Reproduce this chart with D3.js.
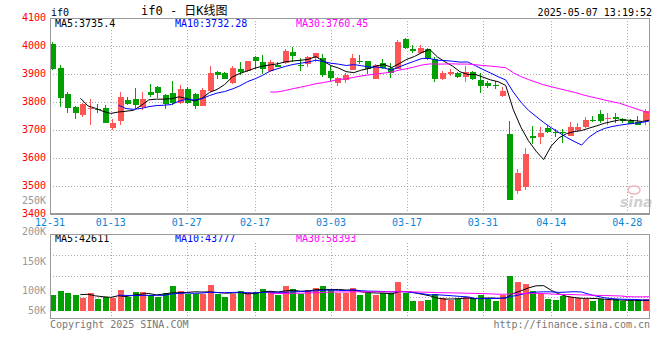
<!DOCTYPE html>
<html><head><meta charset="utf-8">
<script src="https://cdn.jsdelivr.net/npm/d3@7"></script>
<style>
body{margin:0;background:#fff}
svg{display:block}
text{font-family:"DejaVu Sans Mono",monospace;font-size:10px}
</style>
</head><body>
<svg id="c" width="660" height="360"></svg>
<script>
const dates=["12-31","01-02","01-03","01-06","01-07","01-08","01-09","01-10","01-13","01-14","01-15","01-16","01-17","01-20","01-21","01-22","01-23","01-24","01-27",
"02-05","02-06","02-07","02-10","02-11","02-12","02-13","02-14","02-17","02-18","02-19","02-20","02-21","02-24","02-25","02-26","02-27","02-28",
"03-03","03-04","03-05","03-06","03-07","03-10","03-11","03-12","03-13","03-14","03-17","03-18","03-19","03-20","03-21","03-24","03-25","03-26","03-27","03-28","03-31",
"04-01","04-02","04-03","04-07","04-08","04-09","04-10","04-11","04-14","04-15","04-16","04-17","04-18","04-21","04-22","04-23","04-24","04-25","04-28","04-29","04-30","05-06"];
const open =[4007,3921,3829,3781,3754,3778,3776,3779,3707,3733,3807,3811,3781,3835,3852,3824,3832,3798,3845,3829,3787,3840,3907,3905,3867,3917,3910,3961,3942,3912,3933,3938,3979,3933,3936,3957,3957,3910,3869,3879,3914,3947,3946,3883,3939,3923,3918,4025,3989,3976,3989,3953,3882,3901,3902,3888,3908,3879,3869,3862,3821,3686,3483,3498,3679,3676,3708,3694,3692,3680,3700,3710,3735,3757,3738,3748,3739,3731,3730,3732];
const high =[4014,3933,3836,3786,3797,3811,3793,3789,3739,3836,3818,3850,3837,3864,3857,3830,3875,3861,3855,3833,3849,3929,3911,3907,3929,3943,3948,3964,3968,3950,3943,3990,3997,3957,3964,3975,3971,3929,3890,3905,3971,3968,3946,3936,3954,3938,4021,4029,4004,4004,3993,3960,3911,3917,3906,3929,3912,3905,3875,3874,3855,3732,3561,3637,3714,3712,3718,3702,3702,3729,3726,3745,3750,3771,3762,3760,3743,3738,3750,3774];
const low  =[3915,3783,3760,3740,3747,3718,3762,3726,3700,3718,3788,3780,3771,3819,3814,3774,3788,3793,3793,3776,3787,3835,3883,3883,3865,3898,3907,3917,3900,3907,3924,3936,3944,3910,3924,3943,3888,3871,3857,3867,3914,3935,3899,3883,3917,3887,3918,3989,3976,3971,3951,3873,3879,3893,3886,3871,3879,3833,3851,3848,3819,3450,3471,3486,3649,3650,3690,3676,3652,3680,3694,3707,3727,3726,3719,3726,3725,3720,3718,3719];
const close=[3918,3815,3780,3762,3793,3780,3772,3726,3725,3818,3794,3789,3811,3826,3831,3793,3798,3845,3795,3787,3842,3902,3898,3883,3921,3907,3946,3948,3919,3943,3926,3982,3964,3930,3960,3975,3898,3887,3886,3896,3957,3943,3917,3932,3921,3902,4014,3994,3983,3993,3954,3882,3905,3908,3890,3907,3882,3858,3858,3858,3840,3450,3545,3614,3673,3690,3693,3690,3688,3710,3710,3736,3731,3733,3742,3738,3732,3722,3718,3767];
const volume=[64000,80000,72000,64000,51000,72000,47000,55000,51000,84000,55000,76000,76000,64000,55000,72000,100000,80000,68000,68000,68000,104000,68000,55000,68000,80000,76000,76000,88000,80000,64000,100000,88000,68000,84000,92000,100000,88000,72000,72000,92000,64000,72000,64000,72000,72000,116000,72000,39000,39000,43000,68000,51000,43000,47000,55000,51000,64000,47000,39000,64000,141000,116000,108000,80000,68000,47000,43000,60000,55000,51000,47000,39000,47000,43000,47000,39000,39000,43000,47000];
const priceTicks=[4100,4000,3900,3800,3700,3600,3500,3400];
const volTicks=[250000,200000,150000,100000,50000];
const volTickLabels=["250K","200K","150K","100K","50K"];
const xTickDates=["12-31","01-13","01-27","02-17","03-03","03-17","03-31","04-14","04-28"];
const maPeriods=[5,10,30];
const maPriceLabels=["MA5:3735.4","MA10:3732.28","MA30:3760.45"];
const maVolLabels=["MA5:42611","MA10:43777","MA30:58393"];
const titleText="if0 - 日K线图";
const symbolText="if0";
const timeText="2025-05-07 13:19:52";
const copyText="Copyright 2025 SINA.COM";
const urlText="http://finance.sina.com.cn";

const svg=d3.select("#c");
const RED="#ff5555", GREEN="#00a000", GRID="#aaa", BORDER="#999";
const maColors=["#000","#0000ff","#ff00ff"];
const labelX=[55,175,296];

const xc=d3.scaleLinear().domain([0,dates.length]).range([50,650]);
const xg=d3.scaleLinear().domain([0,dates.length-1]).range([50,650]);
const y=d3.scaleLinear().domain([3400,4100]).range([214,18]);
const yv=d3.scaleLinear().domain([0,100000]).range([311,286.3]);
const volLabelY=d3.scaleLinear().domain([50000,100000,150000,200000,250000]).range([310,290,261,231,200.7]);
const vpTop=234, vpBot=318;
const vGrid=d3.scaleLinear().domain([0,4]).range([vpTop,vpBot]);

function ma(arr,n){const out=[];for(let i=n-1;i<arr.length;i++){out.push({i,v:d3.mean(arr.slice(i-n+1,i+1))});}return out;}

const g=svg.append("g");
// grids main
g.selectAll(".hg").data(priceTicks.filter(p=>p<4100&&p>3400)).join("line")
 .attr("x1",50).attr("x2",650).attr("y1",d=>Math.round(y(d))+0.5).attr("y2",d=>Math.round(y(d))+0.5)
 .attr("stroke",GRID).attr("stroke-dasharray","1,2");
const tickIdx=xTickDates.map(d=>dates.indexOf(d));
g.selectAll(".vg").data(tickIdx.filter(i=>i>0)).join("line")
 .attr("x1",i=>Math.round(xg(i))+0.5).attr("x2",i=>Math.round(xg(i))+0.5).attr("y1",18).attr("y2",214)
 .attr("stroke",GRID).attr("stroke-dasharray","1,2");
// volume grids
g.selectAll(".vhg").data([1,2,3]).join("line")
 .attr("x1",50).attr("x2",650).attr("y1",d=>Math.round(vGrid(d))+0.5).attr("y2",d=>Math.round(vGrid(d))+0.5)
 .attr("stroke",GRID).attr("stroke-dasharray","1,2");
g.selectAll(".vvg").data(tickIdx.filter(i=>i>0)).join("line")
 .attr("x1",i=>Math.round(xg(i))+0.5).attr("x2",i=>Math.round(xg(i))+0.5).attr("y1",243).attr("y2",vpBot)
 .attr("stroke",GRID).attr("stroke-dasharray","1,2");

// watermark
g.append("ellipse").attr("cx",634).attr("cy",190).attr("rx",6).attr("ry",4).attr("fill","none").attr("stroke","#eab8b8").attr("stroke-width",1.5);
g.append("text").attr("x",620).attr("y",207).text("sina").attr("fill","#d0d0d0")
 .style("font-family","DejaVu Sans").style("font-size","14px").style("font-style","italic").style("font-weight","bold");

// MA label backgrounds + labels (main)
maPriceLabels.forEach((t,k)=>{
  g.append("rect").attr("x",labelX[k]-1).attr("y",19).attr("width",t.length*6.1+2).attr("height",10).attr("fill","#fff");
  g.append("text").attr("x",labelX[k]).attr("y",27).attr("fill",maColors[k]).text(t);
});

// candles
const idx=d3.range(dates.length);
const cg=g.append("g").attr("shape-rendering","crispEdges");
cg.selectAll(".wick").data(idx).join("line")
 .attr("x1",i=>Math.round(xc(i))+2.5).attr("x2",i=>Math.round(xc(i))+2.5)
 .attr("y1",i=>y(high[i])).attr("y2",i=>y(low[i]))
 .attr("stroke",i=>close[i]>=open[i]?RED:GREEN);
cg.selectAll(".body").data(idx).join("rect")
 .attr("x",i=>Math.round(xc(i))).attr("width",6)
 .attr("y",i=>y(Math.max(open[i],close[i])))
 .attr("height",i=>Math.max(1,Math.abs(y(open[i])-y(close[i]))))
 .attr("fill",i=>close[i]>=open[i]?RED:GREEN);

// MA lines price
const line=d3.line().x(d=>xg(d.i)).y(d=>y(d.v));
maPeriods.forEach((n,k)=>{
  g.append("path").attr("d",line(ma(close,n))).attr("fill","none").attr("stroke",maColors[k]).attr("stroke-width",1);
});

// volume bars
cg.selectAll(".vbar").data(idx).join("rect")
 .attr("x",i=>Math.round(xc(i))).attr("width",6)
 .attr("y",i=>yv(volume[i])).attr("height",i=>yv(0)-yv(volume[i]))
 .attr("fill",i=>close[i]>=open[i]?RED:GREEN);
const vline=d3.line().x(d=>xg(d.i)).y(d=>yv(d.v));
maPeriods.forEach((n,k)=>{
  g.append("path").attr("d",vline(ma(volume,n))).attr("fill","none").attr("stroke",maColors[k]).attr("stroke-width",1);
});
maVolLabels.forEach((t,k)=>{
  g.append("text").attr("x",labelX[k]).attr("y",241.5).attr("fill",maColors[k]).text(t);
});

// borders
const bg=g.append("g").attr("shape-rendering","crispEdges").attr("stroke",BORDER).attr("fill","none");
bg.append("line").attr("x1",50).attr("x2",650).attr("y1",18.5).attr("y2",18.5);
bg.append("line").attr("x1",50.5).attr("x2",50.5).attr("y1",18).attr("y2",215);
bg.append("line").attr("x1",649.5).attr("x2",649.5).attr("y1",18).attr("y2",215);
bg.append("line").attr("x1",50).attr("x2",650).attr("y1",214).attr("y2",214).attr("stroke-width",2);
bg.append("rect").attr("x",50.5).attr("y",vpTop+0.5).attr("width",599).attr("height",vpBot-vpTop);

// price labels
g.selectAll(".pl").data(priceTicks).join("text")
 .attr("x",46).attr("y",d=>y(d)-1).attr("dy","0.35em").attr("text-anchor","end").attr("fill","#ff0000").text(d=>d);
// volume labels
g.selectAll(".vl").data(volTicks).join("text")
 .attr("x",46).attr("y",d=>volLabelY(d)).attr("dy","0.35em").attr("text-anchor","end").attr("fill","#999").text((d,k)=>volTickLabels[k]);
// date labels
g.selectAll(".xl").data(tickIdx).join("text")
 .attr("x",i=>xg(i)).attr("y",222).attr("dy","0.35em").attr("text-anchor","middle").attr("fill","#0a84d8").text(i=>dates[i]);

// header
g.append("text").attr("x",51).attr("y",16).attr("fill","#000").text(symbolText);
g.append("text").attr("x",141).attr("y",15).attr("fill","#000").style("font-size","12px")
 .style("font-family","'DejaVu Sans Mono','Noto Sans CJK SC',monospace").text(titleText);
g.append("text").attr("x",652).attr("y",16).attr("text-anchor","end").attr("fill","#000").text(timeText);
// footer
g.append("text").attr("x",50).attr("y",324).attr("dy","0.35em").attr("fill","#777").text(copyText);
g.append("text").attr("x",650).attr("y",324).attr("dy","0.35em").attr("text-anchor","end").attr("fill","#777").text(urlText);
</script>
</body></html>
